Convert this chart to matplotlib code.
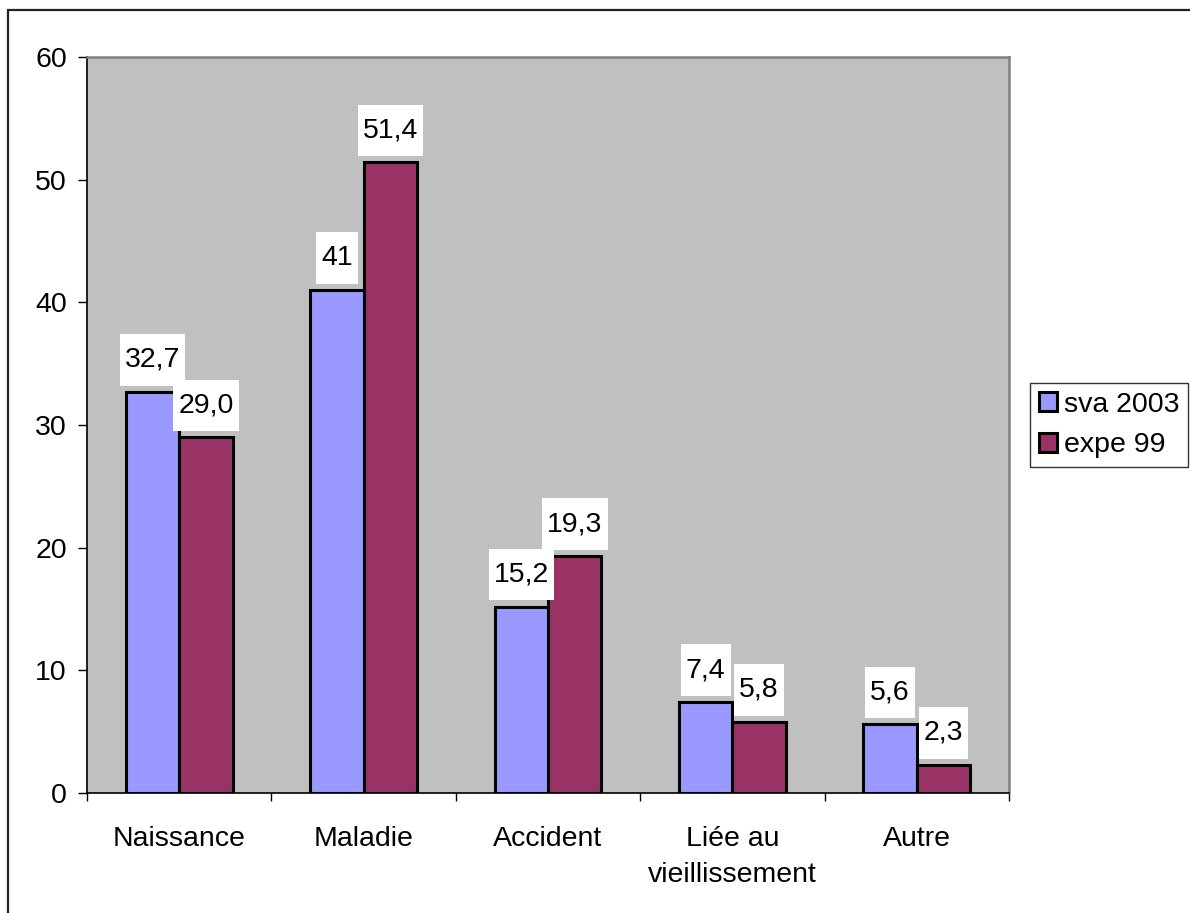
import numpy as np
import matplotlib
matplotlib.use("Agg")
import matplotlib.pyplot as plt
from matplotlib.path import Path
from matplotlib.patches import Rectangle

plt.rcParams['font.family'] = ['Liberation Sans', 'DejaVu Sans']

categories = ["Naissance", "Maladie", "Accident", "Liée au\nvieillissement", "Autre"]
sva_2003 = [32.7, 41.0, 15.2, 7.4, 5.6]
expe_99 = [29.0, 51.4, 19.3, 5.8, 2.3]
sva_labels = ["32,7", "41", "15,2", "7,4", "5,6"]
expe_labels = ["29,0", "51,4", "19,3", "5,8", "2,3"]
series_names = ["sva 2003", "expe 99"]
yticks = [0, 10, 20, 30, 40, 50, 60]

BLUE = "#9999FF"
MAROON = "#993366"
PLOT_BG = "#C0C0C0"
FS = 20.5


def label_box(x0, y0, width, height, mutation_size):
    # white box with more room above/below the text than at the sides
    px = 0.18 * mutation_size
    py = 0.45 * mutation_size
    return Path([(x0 - px, y0 - py), (x0 + width + px, y0 - py),
                 (x0 + width + px, y0 + height + py), (x0 - px, y0 + height + py),
                 (x0 - px, y0 - py)], closed=True)


fig = plt.figure(figsize=(11.9, 9.13), dpi=100)
ax = fig.add_axes([87 / 1190, 1 - 793 / 913, (1009 - 87) / 1190, (793 - 57) / 913])
ax.set_facecolor(PLOT_BG)

# outer frame of the chart
fig.patches.append(Rectangle((8 / 1190, -0.1), 1.2, 1.1 - 10 / 913,
                             transform=fig.transFigure, fill=False,
                             edgecolor="#222222", linewidth=1.6, zorder=0))

x = np.arange(len(categories))
w = 0.29
b1 = ax.bar(x - w / 2, sva_2003, w, color=BLUE, edgecolor="black", linewidth=2.2,
            label=series_names[0], zorder=2)
b2 = ax.bar(x + w / 2, expe_99, w, color=MAROON, edgecolor="black", linewidth=2.2,
            label=series_names[1], zorder=2)

for bars, labels in ((b1, sva_labels), (b2, expe_labels)):
    for rect, lab in zip(bars, labels):
        ax.annotate(lab, (rect.get_x() + rect.get_width() / 2, rect.get_height()),
                    xytext=(0, 23), textcoords="offset points",
                    ha="center", va="center", fontsize=FS, zorder=3,
                    bbox=dict(boxstyle=label_box, facecolor="white", edgecolor="none"))

ax.set_xlim(-0.5, len(categories) - 0.5)
ax.set_ylim(0, 60)
ax.set_yticks(yticks)
ax.tick_params(axis="y", labelsize=FS, length=6.5, width=1, pad=8, color="black")

# category boundaries get the tick marks, names sit at the centres
ax.set_xticks(np.arange(len(categories) + 1) - 0.5)
ax.set_xticklabels([])
ax.set_xticks(x, minor=True)
ax.set_xticklabels(categories, minor=True, fontsize=FS, linespacing=1.5)
ax.tick_params(axis="x", which="major", length=6, width=1, color="black")
ax.tick_params(axis="x", which="minor", length=0, pad=24)

for side in ("left", "bottom"):
    ax.spines[side].set_color("black")
    ax.spines[side].set_linewidth(1.2)
for side in ("top", "right"):
    ax.spines[side].set_color("#808080")
    ax.spines[side].set_linewidth(1.8)

leg = fig.legend(loc="center left", bbox_to_anchor=(1030 / 1190, 1 - 425 / 913),
                 fontsize=FS, frameon=True, fancybox=False, borderpad=0.3,
                 handlelength=0.65, handleheight=0.65, handletextpad=0.25,
                 labelspacing=0.5, borderaxespad=0)
leg.get_frame().set_edgecolor("black")
leg.get_frame().set_linewidth(1.0)

fig.savefig("out.png", dpi=100, facecolor="white")
